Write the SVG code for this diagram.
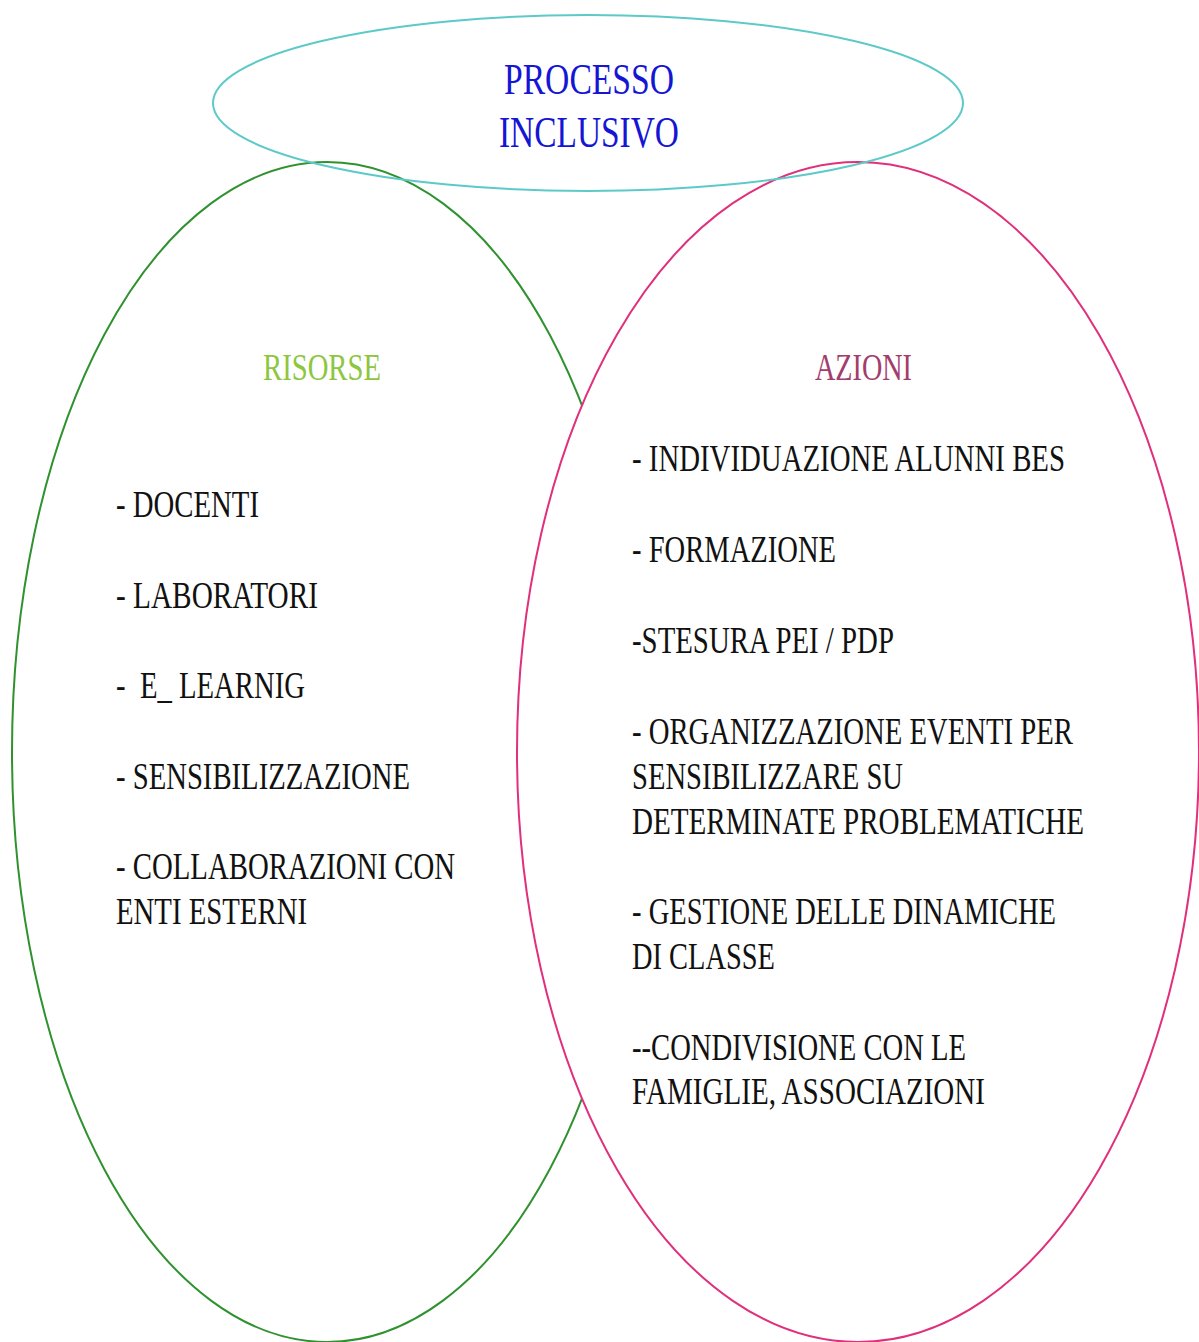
<svg xmlns="http://www.w3.org/2000/svg" width="1199" height="1342" viewBox="0 0 1199 1342">
<style>
.t{font-family:"Liberation Serif","Times New Roman",serif;font-size:38px;fill:#111;white-space:pre}
.h{font-family:"Liberation Serif","Times New Roman",serif;font-size:38px}
.ttl{font-family:"Liberation Serif","Times New Roman",serif;font-size:45px;fill:#1515d4}
</style>
<rect width="1199" height="1342" fill="#ffffff"/>
<g id="risorse">
<ellipse cx="327" cy="752" rx="315" ry="590" fill="#ffffff" stroke="#2f922f" stroke-width="2"/>
<text class="h" transform="scale(0.75,1)" x="350.67" y="380" fill="#8dc63f" textLength="157.33" lengthAdjust="spacingAndGlyphs">RISORSE</text>
<text class="t" transform="scale(0.75,1)" x="154.67" y="517" textLength="190.67" lengthAdjust="spacingAndGlyphs">- DOCENTI</text>
<text class="t" transform="scale(0.75,1)" x="154.67" y="608" textLength="269.33" lengthAdjust="spacingAndGlyphs">- LABORATORI</text>
<text class="t" transform="scale(0.75,1)" x="154.67" y="698" textLength="252" lengthAdjust="spacingAndGlyphs" xml:space="preserve">-  E_ LEARNIG</text>
<text class="t" transform="scale(0.75,1)" x="154.67" y="789" textLength="392" lengthAdjust="spacingAndGlyphs">- SENSIBILIZZAZIONE</text>
<text class="t" transform="scale(0.75,1)" x="154.67" y="879" textLength="452" lengthAdjust="spacingAndGlyphs">- COLLABORAZIONI CON</text>
<text class="t" transform="scale(0.75,1)" x="154.67" y="924" textLength="254.67" lengthAdjust="spacingAndGlyphs">ENTI ESTERNI</text>
</g>
<g id="azioni">
<ellipse cx="858" cy="752" rx="341" ry="590" fill="#ffffff" stroke="#e0307c" stroke-width="2"/>
<text class="h" transform="scale(0.75,1)" x="1086.67" y="380" fill="#a33d6d" textLength="129.33" lengthAdjust="spacingAndGlyphs">AZIONI</text>
<text class="t" transform="scale(0.75,1)" x="842.67" y="471" textLength="577.33" lengthAdjust="spacingAndGlyphs">- INDIVIDUAZIONE ALUNNI BES</text>
<text class="t" transform="scale(0.75,1)" x="842.67" y="562" textLength="272" lengthAdjust="spacingAndGlyphs">- FORMAZIONE</text>
<text class="t" transform="scale(0.75,1)" x="842.67" y="653" textLength="349.33" lengthAdjust="spacingAndGlyphs">-STESURA PEI / PDP</text>
<text class="t" transform="scale(0.75,1)" x="842.67" y="744" textLength="588" lengthAdjust="spacingAndGlyphs">- ORGANIZZAZIONE EVENTI PER</text>
<text class="t" transform="scale(0.75,1)" x="842.67" y="789" textLength="361.33" lengthAdjust="spacingAndGlyphs">SENSIBILIZZARE SU</text>
<text class="t" transform="scale(0.75,1)" x="842.67" y="834" textLength="602.67" lengthAdjust="spacingAndGlyphs">DETERMINATE PROBLEMATICHE</text>
<text class="t" transform="scale(0.75,1)" x="842.67" y="924" textLength="565.33" lengthAdjust="spacingAndGlyphs">- GESTIONE DELLE DINAMICHE</text>
<text class="t" transform="scale(0.75,1)" x="842.67" y="969" textLength="190.67" lengthAdjust="spacingAndGlyphs">DI CLASSE</text>
<text class="t" transform="scale(0.75,1)" x="842.67" y="1060" textLength="445.33" lengthAdjust="spacingAndGlyphs">--CONDIVISIONE CON LE</text>
<text class="t" transform="scale(0.75,1)" x="842.67" y="1104" textLength="470.67" lengthAdjust="spacingAndGlyphs">FAMIGLIE, ASSOCIAZIONI</text>
</g>
<g id="processo">
<ellipse cx="588" cy="103" rx="375" ry="88" fill="none" stroke="#5ec9c9" stroke-width="2"/>
<text class="ttl" transform="scale(0.75,1)" x="672" y="94" textLength="226.67" lengthAdjust="spacingAndGlyphs">PROCESSO</text>
<text class="ttl" transform="scale(0.75,1)" x="665.33" y="147" textLength="240" lengthAdjust="spacingAndGlyphs">INCLUSIVO</text>
</g>
</svg>
